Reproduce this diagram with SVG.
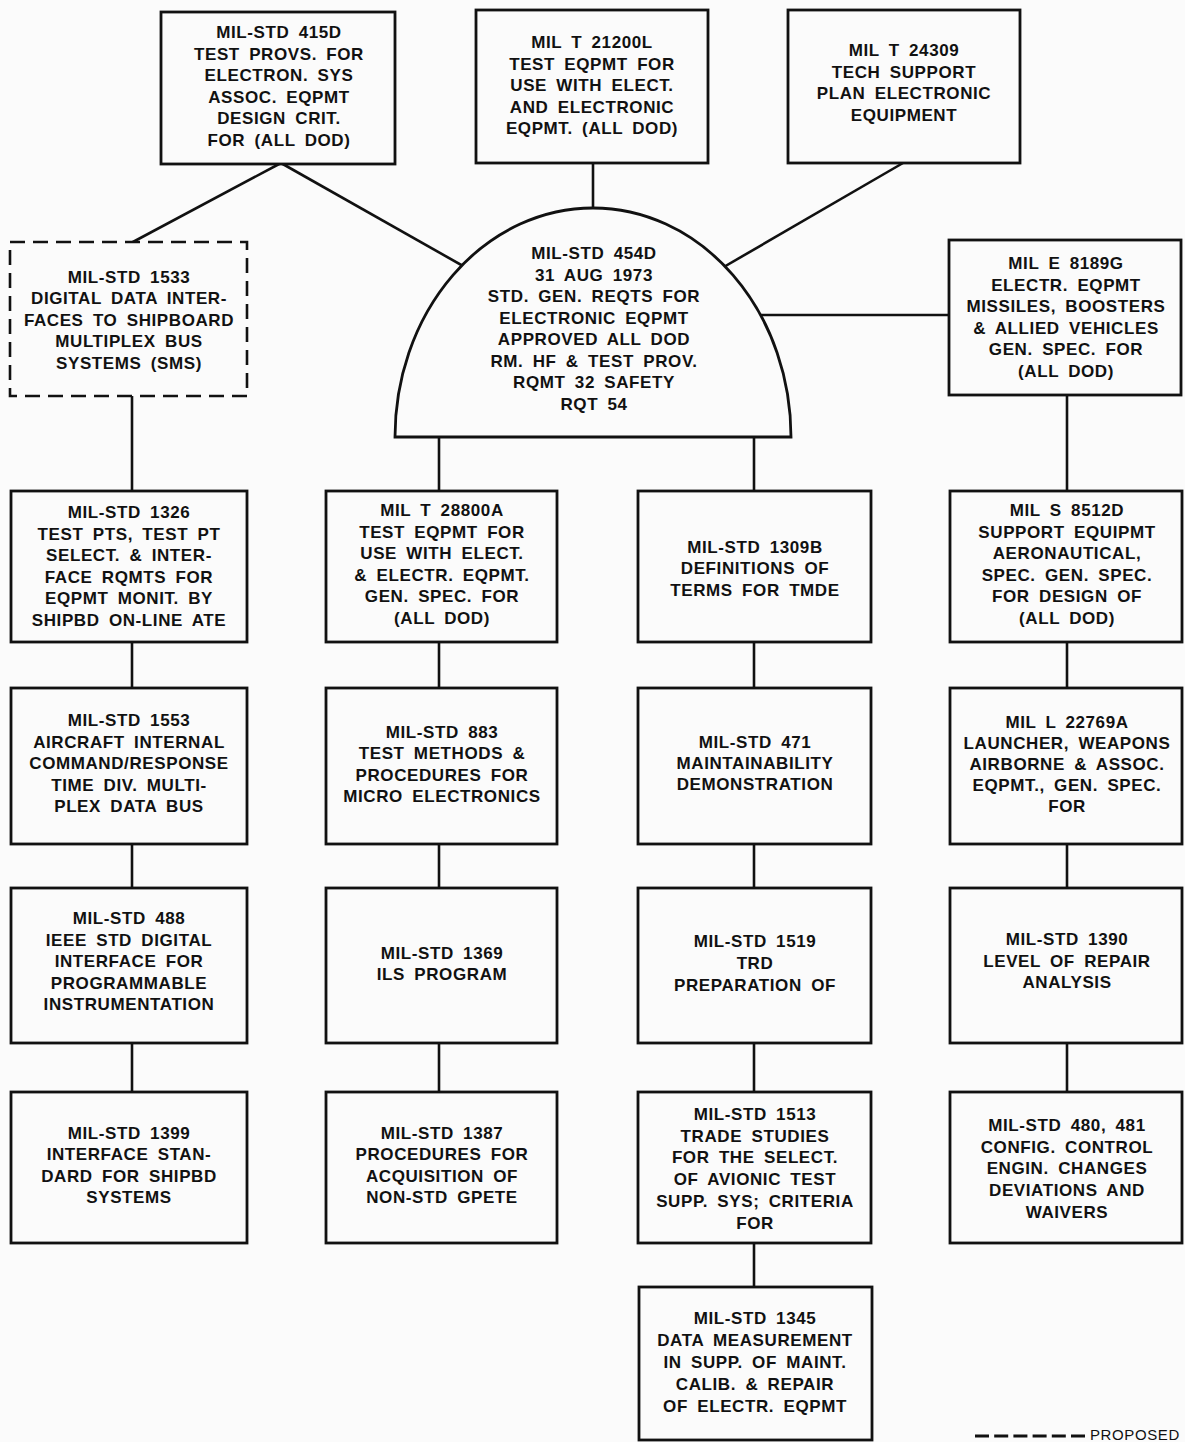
<svg xmlns="http://www.w3.org/2000/svg" width="1185" height="1442" viewBox="0 0 1185 1442">
<style>
.bg{fill:#fbfbfb}
.box{fill:#fbfbfb;stroke:#111;stroke-width:2.8}
.dash{fill:#fbfbfb;stroke:#111;stroke-width:2.6;stroke-dasharray:15 8}
.conn{stroke:#111;stroke-width:2.6;fill:none}
.t{font-family:"Liberation Sans",Arial,sans-serif;font-weight:bold;font-size:17px;fill:#111;text-anchor:middle;letter-spacing:0.6px;word-spacing:4px}
.leg{font-family:"Liberation Sans",Arial,sans-serif;font-size:15px;fill:#111;letter-spacing:0.6px}
</style>
<rect class="bg" x="0" y="0" width="1185" height="1442"/>
<g id="connectors">
<line class="conn" x1="281" y1="163" x2="131" y2="243"/>
<line class="conn" x1="281" y1="163" x2="479" y2="275"/>
<line class="conn" x1="593" y1="163" x2="593" y2="214"/>
<line class="conn" x1="903" y1="163" x2="710" y2="275"/>
<line class="conn" x1="740" y1="315" x2="950" y2="315"/>
<line class="conn" x1="132" y1="396" x2="132" y2="491"/>
<line class="conn" x1="439" y1="437" x2="439" y2="491"/>
<line class="conn" x1="754" y1="437" x2="754" y2="491"/>
<line class="conn" x1="1067" y1="395" x2="1067" y2="491"/>
<line class="conn" x1="132" y1="642" x2="132" y2="688"/>
<line class="conn" x1="439" y1="642" x2="439" y2="688"/>
<line class="conn" x1="754" y1="642" x2="754" y2="688"/>
<line class="conn" x1="1067" y1="642" x2="1067" y2="688"/>
<line class="conn" x1="132" y1="844" x2="132" y2="888"/>
<line class="conn" x1="439" y1="844" x2="439" y2="888"/>
<line class="conn" x1="754" y1="844" x2="754" y2="888"/>
<line class="conn" x1="1067" y1="844" x2="1067" y2="888"/>
<line class="conn" x1="132" y1="1043" x2="132" y2="1092"/>
<line class="conn" x1="439" y1="1043" x2="439" y2="1092"/>
<line class="conn" x1="754" y1="1043" x2="754" y2="1092"/>
<line class="conn" x1="1067" y1="1043" x2="1067" y2="1092"/>
<line class="conn" x1="754" y1="1243" x2="754" y2="1287"/>
</g>

<g id="n415d">
<rect class="box" x="161" y="12" width="234" height="152"/>
<text class="t" x="279" y="38"><tspan x="279">MIL-STD 415D</tspan><tspan x="279" dy="21.6">TEST PROVS. FOR</tspan><tspan x="279" dy="21.6">ELECTRON. SYS</tspan><tspan x="279" dy="21.6">ASSOC. EQPMT</tspan><tspan x="279" dy="21.6">DESIGN CRIT.</tspan><tspan x="279" dy="21.6">FOR (ALL DOD)</tspan></text>
</g>
<g id="n21200l">
<rect class="box" x="476" y="10" width="232" height="153"/>
<text class="t" x="592" y="48"><tspan x="592">MIL T 21200L</tspan><tspan x="592" dy="21.6">TEST EQPMT FOR</tspan><tspan x="592" dy="21.6">USE WITH ELECT.</tspan><tspan x="592" dy="21.6">AND ELECTRONIC</tspan><tspan x="592" dy="21.6">EQPMT. (ALL DOD)</tspan></text>
</g>
<g id="n24309">
<rect class="box" x="788" y="10" width="232" height="153"/>
<text class="t" x="904" y="56"><tspan x="904">MIL T 24309</tspan><tspan x="904" dy="21.5">TECH SUPPORT</tspan><tspan x="904" dy="21.5">PLAN ELECTRONIC</tspan><tspan x="904" dy="21.5">EQUIPMENT</tspan></text>
</g>
<g id="n1533">
<rect class="dash" x="10" y="242" width="237" height="154"/>
<text class="t" x="129" y="283"><tspan x="129">MIL-STD 1533</tspan><tspan x="129" dy="21.4">DIGITAL DATA INTER-</tspan><tspan x="129" dy="21.4">FACES TO SHIPBOARD</tspan><tspan x="129" dy="21.4">MULTIPLEX BUS</tspan><tspan x="129" dy="21.4">SYSTEMS (SMS)</tspan></text>
</g>
<g id="n454d">
<path class="box" d="M395 437 A198 229 0 0 1 791 437 Z"/>
<text class="t" x="594" y="259"><tspan x="594">MIL-STD 454D</tspan><tspan x="594" dy="21.5">31 AUG 1973</tspan><tspan x="594" dy="21.5">STD. GEN. REQTS FOR</tspan><tspan x="594" dy="21.5">ELECTRONIC EQPMT</tspan><tspan x="594" dy="21.5">APPROVED ALL DOD</tspan><tspan x="594" dy="21.5">RM. HF &amp; TEST PROV.</tspan><tspan x="594" dy="21.5">RQMT 32 SAFETY</tspan><tspan x="594" dy="21.5">RQT 54</tspan></text>
</g>
<g id="n8189g">
<rect class="box" x="949" y="240" width="232" height="155"/>
<text class="t" x="1066" y="269"><tspan x="1066">MIL E 8189G</tspan><tspan x="1066" dy="21.6">ELECTR. EQPMT</tspan><tspan x="1066" dy="21.6">MISSILES, BOOSTERS</tspan><tspan x="1066" dy="21.6">&amp; ALLIED VEHICLES</tspan><tspan x="1066" dy="21.6">GEN. SPEC. FOR</tspan><tspan x="1066" dy="21.6">(ALL DOD)</tspan></text>
</g>

<g id="n1326">
<rect class="box" x="11" y="491" width="236" height="151"/>
<text class="t" x="129" y="518"><tspan x="129">MIL-STD 1326</tspan><tspan x="129" dy="21.6">TEST PTS, TEST PT</tspan><tspan x="129" dy="21.6">SELECT. &amp; INTER-</tspan><tspan x="129" dy="21.6">FACE RQMTS FOR</tspan><tspan x="129" dy="21.6">EQPMT MONIT. BY</tspan><tspan x="129" dy="21.6">SHIPBD ON-LINE ATE</tspan></text>
</g>
<g id="n28800a">
<rect class="box" x="326" y="491" width="231" height="151"/>
<text class="t" x="442" y="516"><tspan x="442">MIL T 28800A</tspan><tspan x="442" dy="21.6">TEST EQPMT FOR</tspan><tspan x="442" dy="21.6">USE WITH ELECT.</tspan><tspan x="442" dy="21.6">&amp; ELECTR. EQPMT.</tspan><tspan x="442" dy="21.6">GEN. SPEC. FOR</tspan><tspan x="442" dy="21.6">(ALL DOD)</tspan></text>
</g>
<g id="n1309b">
<rect class="box" x="638" y="491" width="233" height="151"/>
<text class="t" x="755" y="553"><tspan x="755">MIL-STD 1309B</tspan><tspan x="755" dy="21.3">DEFINITIONS OF</tspan><tspan x="755" dy="21.3">TERMS FOR TMDE</tspan></text>
</g>
<g id="n8512d">
<rect class="box" x="950" y="491" width="232" height="151"/>
<text class="t" x="1067" y="516"><tspan x="1067">MIL S 8512D</tspan><tspan x="1067" dy="21.6">SUPPORT EQUIPMT</tspan><tspan x="1067" dy="21.6">AERONAUTICAL,</tspan><tspan x="1067" dy="21.6">SPEC. GEN. SPEC.</tspan><tspan x="1067" dy="21.6">FOR DESIGN OF</tspan><tspan x="1067" dy="21.6">(ALL DOD)</tspan></text>
</g>

<g id="n1553">
<rect class="box" x="11" y="688" width="236" height="156"/>
<text class="t" x="129" y="726"><tspan x="129">MIL-STD 1553</tspan><tspan x="129" dy="21.6">AIRCRAFT INTERNAL</tspan><tspan x="129" dy="21.6">COMMAND/RESPONSE</tspan><tspan x="129" dy="21.6">TIME DIV. MULTI-</tspan><tspan x="129" dy="21.6">PLEX DATA BUS</tspan></text>
</g>
<g id="n883">
<rect class="box" x="326" y="688" width="231" height="156"/>
<text class="t" x="442" y="738"><tspan x="442">MIL-STD 883</tspan><tspan x="442" dy="21.4">TEST METHODS &amp;</tspan><tspan x="442" dy="21.4">PROCEDURES FOR</tspan><tspan x="442" dy="21.4">MICRO ELECTRONICS</tspan></text>
</g>
<g id="n471">
<rect class="box" x="638" y="688" width="233" height="156"/>
<text class="t" x="755" y="748"><tspan x="755">MIL-STD 471</tspan><tspan x="755" dy="21">MAINTAINABILITY</tspan><tspan x="755" dy="21">DEMONSTRATION</tspan></text>
</g>
<g id="n22769a">
<rect class="box" x="950" y="688" width="232" height="156"/>
<text class="t" x="1067" y="728"><tspan x="1067">MIL L 22769A</tspan><tspan x="1067" dy="21">LAUNCHER, WEAPONS</tspan><tspan x="1067" dy="21">AIRBORNE &amp; ASSOC.</tspan><tspan x="1067" dy="21">EQPMT., GEN. SPEC.</tspan><tspan x="1067" dy="21">FOR</tspan></text>
</g>

<g id="n488">
<rect class="box" x="11" y="888" width="236" height="155"/>
<text class="t" x="129" y="924"><tspan x="129">MIL-STD 488</tspan><tspan x="129" dy="21.5">IEEE STD DIGITAL</tspan><tspan x="129" dy="21.5">INTERFACE FOR</tspan><tspan x="129" dy="21.5">PROGRAMMABLE</tspan><tspan x="129" dy="21.5">INSTRUMENTATION</tspan></text>
</g>
<g id="n1369">
<rect class="box" x="326" y="888" width="231" height="155"/>
<text class="t" x="442" y="959"><tspan x="442">MIL-STD 1369</tspan><tspan x="442" dy="21.3">ILS PROGRAM</tspan></text>
</g>
<g id="n1519">
<rect class="box" x="638" y="888" width="233" height="155"/>
<text class="t" x="755" y="947"><tspan x="755">MIL-STD 1519</tspan><tspan x="755" dy="22">TRD</tspan><tspan x="755" dy="22">PREPARATION OF</tspan></text>
</g>
<g id="n1390">
<rect class="box" x="950" y="888" width="232" height="155"/>
<text class="t" x="1067" y="945"><tspan x="1067">MIL-STD 1390</tspan><tspan x="1067" dy="21.7">LEVEL OF REPAIR</tspan><tspan x="1067" dy="21.7">ANALYSIS</tspan></text>
</g>

<g id="n1399">
<rect class="box" x="11" y="1092" width="236" height="151"/>
<text class="t" x="129" y="1139"><tspan x="129">MIL-STD 1399</tspan><tspan x="129" dy="21.4">INTERFACE STAN-</tspan><tspan x="129" dy="21.4">DARD FOR SHIPBD</tspan><tspan x="129" dy="21.4">SYSTEMS</tspan></text>
</g>
<g id="n1387">
<rect class="box" x="326" y="1092" width="231" height="151"/>
<text class="t" x="442" y="1139"><tspan x="442">MIL-STD 1387</tspan><tspan x="442" dy="21.4">PROCEDURES FOR</tspan><tspan x="442" dy="21.4">ACQUISITION OF</tspan><tspan x="442" dy="21.4">NON-STD GPETE</tspan></text>
</g>
<g id="n1513">
<rect class="box" x="638" y="1092" width="233" height="151"/>
<text class="t" x="755" y="1120"><tspan x="755">MIL-STD 1513</tspan><tspan x="755" dy="21.7">TRADE STUDIES</tspan><tspan x="755" dy="21.7">FOR THE SELECT.</tspan><tspan x="755" dy="21.7">OF AVIONIC TEST</tspan><tspan x="755" dy="21.7">SUPP. SYS; CRITERIA</tspan><tspan x="755" dy="21.7">FOR</tspan></text>
</g>
<g id="n480">
<rect class="box" x="950" y="1092" width="232" height="151"/>
<text class="t" x="1067" y="1131"><tspan x="1067">MIL-STD 480, 481</tspan><tspan x="1067" dy="21.7">CONFIG. CONTROL</tspan><tspan x="1067" dy="21.7">ENGIN. CHANGES</tspan><tspan x="1067" dy="21.7">DEVIATIONS AND</tspan><tspan x="1067" dy="21.7">WAIVERS</tspan></text>
</g>

<g id="n1345">
<rect class="box" x="639" y="1287" width="233" height="153"/>
<text class="t" x="755" y="1324"><tspan x="755">MIL-STD 1345</tspan><tspan x="755" dy="21.9">DATA MEASUREMENT</tspan><tspan x="755" dy="21.9">IN SUPP. OF MAINT.</tspan><tspan x="755" dy="21.9">CALIB. &amp; REPAIR</tspan><tspan x="755" dy="21.9">OF ELECTR. EQPMT</tspan></text>
</g>

<g id="legend">
<line x1="975" y1="1436" x2="1085" y2="1436" stroke="#111" stroke-width="3" stroke-dasharray="14 5.2"/>
<text class="leg" x="1090" y="1440">PROPOSED</text>
</g>
</svg>
